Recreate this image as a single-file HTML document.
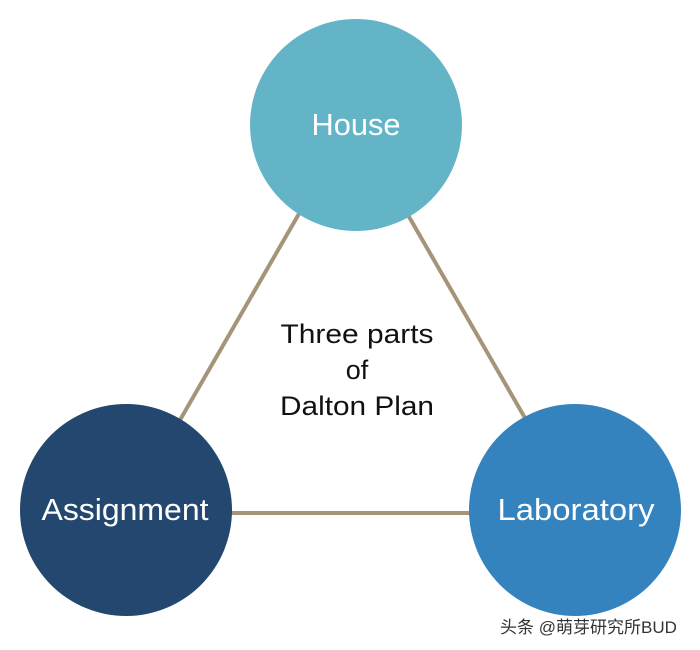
<!DOCTYPE html>
<html><head><meta charset="utf-8"><style>
html,body{margin:0;padding:0;background:#fff;}
</style></head><body>
<svg width="700" height="650" xmlns="http://www.w3.org/2000/svg" style="display:block">
<rect width="700" height="650" fill="#fff"/>
<g stroke="#a69478" stroke-width="4">
<line x1="300" y1="212" x2="180" y2="420"/>
<line x1="408" y1="215" x2="525" y2="418"/>
<line x1="230" y1="513" x2="470" y2="513"/>
</g>
<circle cx="356" cy="125" r="106" fill="#64b4c8"/>
<circle cx="126" cy="510" r="106" fill="#23476e"/>
<circle cx="575" cy="510" r="106" fill="#3483bf"/>
<g font-family="'Liberation Sans',sans-serif" text-anchor="middle">
<text x="356" y="135" font-size="31" fill="#fff" textLength="89" lengthAdjust="spacingAndGlyphs">House</text>
<text x="125" y="520" font-size="31" fill="#fff" textLength="167" lengthAdjust="spacingAndGlyphs">Assignment</text>
<text x="576" y="520" font-size="31" fill="#fff" textLength="157" lengthAdjust="spacingAndGlyphs">Laboratory</text>
<text x="357" y="343" font-size="27" fill="#111" textLength="153" lengthAdjust="spacingAndGlyphs">Three parts</text>
<text x="357" y="379" font-size="27" fill="#111">of</text>
<text x="357" y="415" font-size="27" fill="#111" textLength="154" lengthAdjust="spacingAndGlyphs">Dalton Plan</text>
</g>
<text x="500" y="633" font-size="17" fill="#333" font-family="'Liberation Sans','Noto Sans CJK SC',sans-serif">头条 @萌芽研究所BUD</text>
</svg>
</body></html>
